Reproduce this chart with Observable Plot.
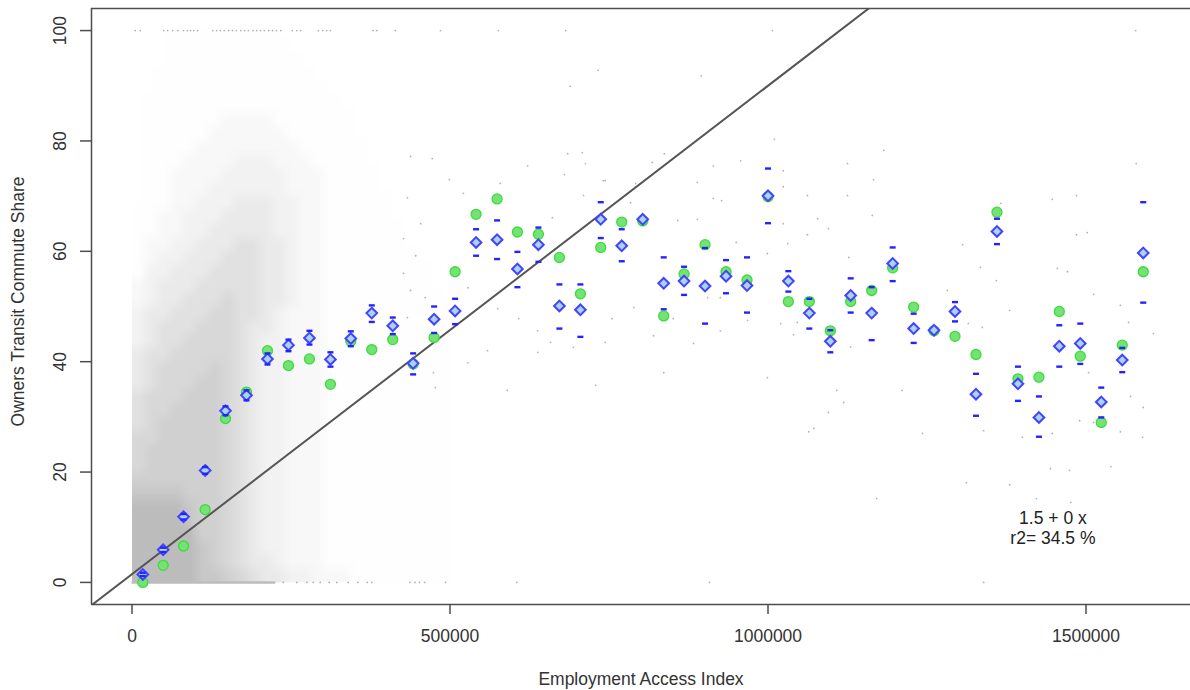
<!DOCTYPE html>
<html>
<head>
<meta charset="utf-8">
<title>Owners Transit Commute Share vs Employment Access Index</title>
<script src="https://cdn.jsdelivr.net/npm/d3@7"></script>
<script src="https://cdn.jsdelivr.net/npm/@observablehq/plot@0.6"></script>
<style>
  html, body { margin: 0; padding: 0; background: #fff; overflow: hidden; }
  #chart svg { display: block; }
</style>
</head>
<body>
<div id="chart"></div>
<script>
// ---------- binned summaries along the access index ----------
const binAccess = [17000, 49000, 81000, 115000, 147000, 180000, 213000, 246000, 279000, 312000,
  344000, 377000, 410000, 442000, 475000, 508000, 541000, 574000, 606000, 639000,
  672000, 705000, 737000, 770000, 803000, 836000, 868000, 901000, 934000, 967000,
  1000000, 1032000, 1065000, 1098000, 1130000, 1163000, 1196000, 1229000, 1261000, 1294000,
  1327000, 1360000, 1393000, 1426000, 1458000, 1491000, 1524000, 1557000, 1590000];

// bin mean share (blue diamonds)
const binMean = [1.45, 5.9, 11.9, 20.3, 31.1, 33.9, 40.5, 43.0, 44.3, 40.4,
  44.2, 48.8, 46.5, 39.7, 47.7, 49.2, 61.6, 62.1, 56.8, 61.2,
  50.1, 49.4, 65.8, 61.0, 65.8, 54.2, 54.6, 53.7, 55.5, 53.8,
  70.05, 54.6, 48.8, 43.7, 52.0, 48.8, 57.8, 46.0, 45.7, 49.1,
  34.1, 63.6, 36.0, 29.9, 42.8, 43.3, 32.7, 40.3, 59.7];

// second bin statistic (green dots)
const binMedian = [0.0, 3.1, 6.6, 13.2, 29.7, 34.5, 42.0, 39.3, 40.5, 35.9,
  43.7, 42.2, 44.0, 39.6, 44.4, 56.3, 66.7, 69.5, 63.5, 63.1,
  58.9, 52.3, 60.7, 65.3, 65.5, 48.3, 55.9, 61.2, 56.3, 54.8,
  69.9, 50.9, 50.9, 45.6, 50.9, 52.9, 57.0, 49.9, 45.6, 44.6,
  41.3, 67.1, 36.9, 37.2, 49.1, 41.0, 29.0, 43.0, 56.3];

// error band around the mean (blue dashes); null where no band is drawn
const seUpper = [1.75, 6.3, 12.4, 20.9, 31.9, 34.8, 41.5, 44.0, 45.6, 41.7,
  45.5, 50.2, 48.0, 41.5, 50.0, 51.4, 64.0, 65.6, 59.9, 64.3,
  54.0, 54.0, 68.9, 64.0, null, 58.9, 57.2, 60.6, 58.4, 58.9,
  75.0, 56.4, 51.4, 45.7, 55.1, 53.5, 60.7, 48.7, null, 50.8,
  37.8, 65.9, 39.1, 33.7, 46.6, 46.9, 35.3, 42.5, 68.9];
const seLower = [1.15, 5.5, 11.4, 19.7, 30.3, 33.0, 39.5, 41.9, 43.1, 39.1,
  42.8, 47.2, 45.0, 37.7, 45.2, 46.8, 59.2, 58.6, 53.5, 58.1,
  46.0, 44.5, 62.4, 58.2, null, 49.5, 52.1, 46.9, 52.4, 48.9,
  65.1, 52.7, 46.0, 41.7, 48.9, 43.9, 54.6, 43.4, null, 47.3,
  30.2, 61.3, 32.9, 26.4, 39.1, 39.6, 29.9, 38.1, 50.7];

// ---------- least-squares fit ----------
const fitIntercept = 1.5;
const fitSlope = 8.85e-5;   // printed rounded to 0
const fitR2 = 34.5;

// ---------- tract cloud: density levels (0-9) ----------
// 25 columns of 20 000 access units (0 to 500 000),
// 40 rows of 2.5 share points, listed from 100 down to 0.
const cloudRows = [
  "0001111111100000000000000",
  "0001111111110000000000000",
  "0001111111111000000000000",
  "0011111111111100000000000",
  "0011111111111110000000000",
  "0111111111111111000000000",
  "0111111222211111100000000",
  "0111112222221111100000000",
  "0111122222222111110000000",
  "0111222233322211110000000",
  "0112222333332221111000000",
  "0112223333332221111000000",
  "0112233344433221111100000",
  "1122333444433221111100000",
  "1122334444433221111110000",
  "1223344455443221111110000",
  "1233444555443221111111000",
  "1334445555443221111111100",
  "2344455555443221111111100",
  "2344555655443221111111110",
  "3445556655432221111111111",
  "3455566654432221111111111",
  "3455666654332221111111111",
  "4556666654332221111111111",
  "4566667654332221111111111",
  "4566677654332221111111111",
  "5666777654332221111111111",
  "5667777654332221111111111",
  "5677777654332221111111111",
  "6677777654332221111111111",
  "6777777654332221111111111",
  "6777777654332221111111111",
  "7777777654332221111111111",
  "8888777654332221111111111",
  "9999877654332221111111111",
  "9999877654332221111111111",
  "9999977654332221111111111",
  "9999987654332221111111111",
  "9999987654432221111111111",
  "9999988765443322211111111"
];
const cloudCols = 25, cloudAccessMax = 500000;

// tracts at exactly 0 % share: a continuous run, then scattered ones
const zeroRunEnd = 226000;
const zeroShareAccess = [238000, 259000, 275000, 285000, 296000, 310000, 322000, 340000, 355000, 370000,
  377000, 437000, 445000, 452000, 460000, 493000, 605000, 908000, 1339000];

// tracts at exactly 100 % share
const fullShareAccess = [5000, 13000, 50000, 56000, 64000, 72000, 81000, 87000, 92000, 97000,
  103000, 127000, 133000, 139000, 145000, 152000, 158000, 164000, 171000, 177000,
  183000, 190000, 196000, 202000, 208000, 215000, 221000, 227000, 234000, 252000,
  259000, 265000, 293000, 300000, 306000, 312000, 379000, 385000, 414000, 485000,
  576000, 682000, 1007000, 1578000];

// scattered tracts away from the main cloud
const sparseAccess = [1125000, 1166000, 1024000, 1062000, 1078000, 1095000, 1031000, 1127000, 1306000, 1334000,
  1455000, 1471000, 1502000, 1485000, 1447000, 1366000, 1359000, 1282000, 1512000, 1606000,
  1554000, 1567000, 1570000, 1590000, 1554000, 1589000, 1447000, 1400000, 1243000, 1211000,
  1108000, 1095000, 1119000, 1064000, 1072000, 1040000, 1046000, 1130000, 1337000, 1315000,
  1380000, 1504000, 1490000, 1512000, 1171000, 1312000, 1339000, 1380000, 1422000, 1444000,
  1474000, 1539000, 1476000, 733000, 689000, 895000, 1010000, 1182000, 1579000, 708000,
  837000, 957000, 680000, 744000, 710000, 784000, 914000, 927000, 1125000, 1164000,
  889000, 1024000, 661000, 1485000, 1062000, 950000,
  438000, 472000, 499000, 521000, 579000, 622000, 685000, 713000, 741000, 792000,
  818000, 858000, 889000, 914000, 1024000, 433000, 454000, 427000, 446000, 427000,
  438000, 461000, 433000, 528000, 575000, 608000, 638000, 658000, 694000, 744000,
  755000, 789000, 820000, 851000, 883000, 925000, 968000, 1020000, 999000, 925000,
  905000, 836000, 999000, 528000, 474000, 477000, 590000, 559000, 729000, 638000];
const sparseShare = [75.9, 73.0, 71.7, 70.1, 65.9, 64.1, 61.4, 58.9, 61.2, 57.1,
  56.9, 56.3, 63.4, 70.1, 69.4, 68.7, 54.7, 52.9, 52.2, 45.1,
  50.2, 47.1, 33.7, 31.7, 27.3, 26.3, 27.0, 26.3, 27.0, 34.8,
  34.8, 30.8, 32.6, 27.3, 27.9, 44.9, 47.1, 42.7, 46.2, 46.9,
  49.3, 38.0, 29.3, 29.0, 15.2, 18.1, 27.5, 17.7, 15.2, 20.6,
  20.3, 21.0, 14.5, 92.8, 89.9, 91.8, 80.3, 78.3, 75.9, 77.9,
  77.7, 76.4, 73.9, 72.8, 70.1, 68.8, 69.6, 69.2, 70.1, 66.5,
  65.8, 65.0, 66.1, 63.0, 63.0, 61.6,
  77.2, 76.8, 73.0, 70.5, 72.3, 75.5, 77.7, 75.9, 72.8, 72.3,
  76.1, 65.6, 72.5, 75.5, 74.6, 69.7, 65.0, 62.3, 59.2, 56.0,
  52.9, 51.6, 48.0, 53.4, 49.6, 47.8, 45.6, 43.5, 42.6, 43.5,
  47.8, 49.8, 44.7, 47.8, 43.3, 45.6, 47.5, 46.9, 59.6, 51.6,
  51.6, 38.0, 37.1, 39.8, 38.0, 35.3, 34.8, 42.0, 35.7, 41.7];

// ---------- axes ----------
const xTicks = [0, 500000, 1000000, 1500000];
const yTicks = [0, 20, 40, 60, 80, 100];
const xDomain = [-63700, 1664300];
const yDomain = [-4, 104];

// ---------- derived tables ----------
const bins = binAccess.map((x, i) => ({x, mean: binMean[i], median: binMedian[i], hi: seUpper[i], lo: seLower[i]}));
const dashes = bins.flatMap(b => b.hi == null ? [] : [{x: b.x, y: b.hi}, {x: b.x, y: b.lo}]);

// how much grey each density level lays down
const levelOpacity = [0, 0.02, 0.1, 0.2, 0.32, 0.45, 0.58, 0.7, 0.82, 1];
const shade = d3.interpolateRgb("#ffffff", "#bcbcbc");
const cloudValues = cloudRows.flatMap(r => [...r.padEnd(cloudCols, "0").slice(0, cloudCols)].map(Number));

const tractDots = [
  ...sparseAccess.map((x, i) => ({x, y: sparseShare[i]})),
  ...zeroShareAccess.map(x => ({x, y: 0})),
  ...fullShareAccess.map(x => ({x, y: 100}))
];

const fitLine = xDomain.map(x => ({x, y: fitIntercept + fitSlope * x}));
const fitNote = `${fitIntercept} + ${Math.round(fitSlope)} x\nr2= ${fitR2} %`;

// small horizontal bar used for the error band ends
const dashSymbol = {
  draw(context) {
    context.moveTo(-3, -1.2);
    context.lineTo(3, -1.2);
    context.lineTo(3, 1.2);
    context.lineTo(-3, 1.2);
    context.closePath();
  }
};

const ink = "#4d4d4d";
const fontSize = 17.5;

const chart = Plot.plot({
  width: 1190,
  height: 690,
  marginLeft: 91,
  marginRight: 0,
  marginTop: 8,
  marginBottom: 86,
  x: {domain: xDomain},
  y: {domain: yDomain},
  color: {type: "identity"},
  style: {
    fontFamily: "'Liberation Sans', Arial, Helvetica, sans-serif",
    color: "#333",
    background: "#fff",
    overflow: "visible"
  },
  marks: [
    // density of tracts in the crowded low-access corner
    Plot.raster(cloudValues, {
      width: cloudCols,
      height: cloudRows.length,
      x1: 0, x2: cloudAccessMax,
      y1: 100, y2: 0,
      fill: d => shade(levelOpacity[d])
    }),
    Plot.ruleY([0], {x1: () => 0, x2: () => zeroRunEnd, stroke: "#bcbcbc", strokeWidth: 2.4}),
    Plot.dot(tractDots, {x: "x", y: "y", r: 0.9, fill: "#b3b3b3", stroke: "none"}),

    // fitted line
    Plot.line(fitLine, {x: "x", y: "y", stroke: "#555", strokeWidth: 2, clip: true}),

    // bin statistics
    Plot.dot(bins, {x: "x", y: "median", r: 5, fill: "#74e274", stroke: "#3ddc3d", strokeWidth: 1.3}),
    Plot.dot(bins, {x: "x", y: "mean", symbol: "diamond2", r: 4.8, fill: "#a9d3ef", stroke: "#4343ff", strokeWidth: 2}),
    Plot.dot(dashes, {x: "x", y: "y", symbol: dashSymbol, r: 3, fill: "#2323ff", stroke: "none"}),

    // fit annotation
    Plot.text([fitNote], {x: () => 1448000, y: () => 10, text: d => d, fontSize, lineHeight: 1.15, fill: "#222"}),

    // plot box
    Plot.ruleY([yDomain[0], yDomain[1]], {stroke: ink, strokeWidth: 1.5}),
    Plot.ruleX([xDomain[0]], {stroke: ink, strokeWidth: 1.5}),

    // axes
    Plot.axisX({ticks: xTicks, tickSize: 10, tickPadding: 15, tickFormat: d3.format("d"),
      fontSize, stroke: ink, strokeWidth: 1.5, label: null}),
    Plot.axisY({ticks: yTicks, tickSize: 11, tickFormat: () => "", stroke: ink, strokeWidth: 1.5, label: null}),
    Plot.text(yTicks, {x: () => xDomain[0], y: d => d, text: d => `${d}`, rotate: -90, dx: -31, fontSize, fill: "#333"}),

    // axis titles
    Plot.text(["Employment Access Index"], {frameAnchor: "bottom", lineAnchor: "middle", dy: 75, fontSize, fill: "#333"}),
    Plot.text(["Owners Transit Commute Share"], {frameAnchor: "left", textAnchor: "middle", lineAnchor: "middle", rotate: -90, dx: -73, dy: -5, fontSize, fill: "#333"})
  ]
});

document.getElementById("chart").appendChild(chart);
</script>
</body>
</html>
